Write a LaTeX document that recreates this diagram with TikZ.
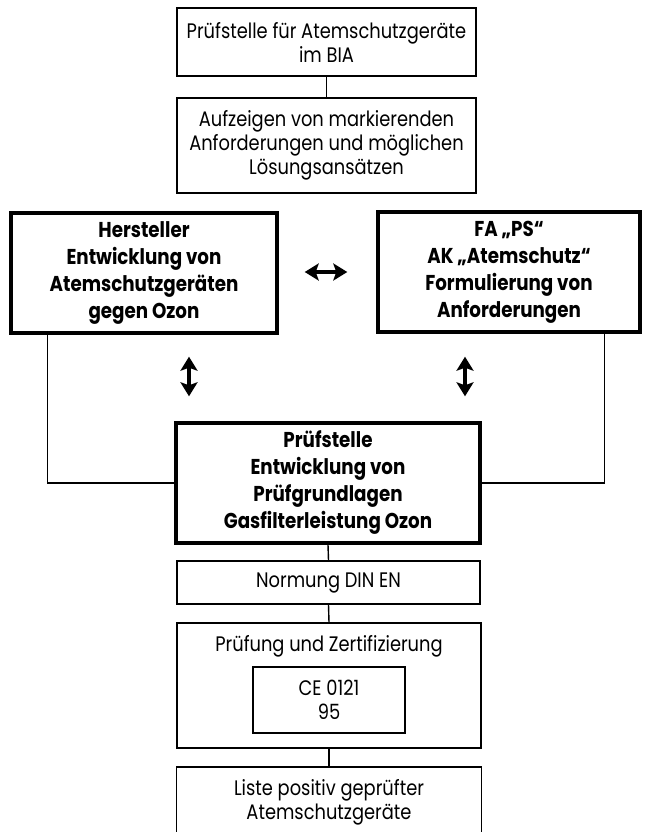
\documentclass[tikz,border=0pt]{standalone}
\usepackage{fontspec}
\setmainfont{Poppins}[FakeStretch=0.85]
\usetikzlibrary{arrows.meta, positioning, calc}
\tikzset{>={Stealth[length=14pt, width=17pt, inset=3pt]}}
\tikzset{
	kasten/.style={draw, line width=1.6pt, align=center, inner sep=0pt, font=\fontsize{21}{24}\selectfont},
	dickkasten/.style={kasten, line width=3.4pt, font=\fontsize{21.5}{27}\selectfont\bfseries},
	linie/.style={line width=1.4pt},
	pfeil/.style={line width=3.6pt, <->}
}

\begin{document}
\begin{tikzpicture}[x=1pt, y=-1pt]

	\useasboundingbox (0,0) rectangle (645,832);
	\clip (0,0) rectangle (645,832);

	% obere Kaesten
	\node [kasten, minimum width=299, minimum height=68] (bia) at (326.5,42) {Prüfstelle für Atemschutzgeräte\\im BIA};
	\node [kasten, minimum width=299, minimum height=95] (aufzeigen) at (326.5,145.5) {Aufzeigen von markierenden\\Anforderungen und möglichen\\Lösungsansätzen};

	% Hersteller / Fachausschuss
	\node [dickkasten, minimum width=266, minimum height=120] (hersteller) at (144,273) {Hersteller\\Entwicklung von\\Atemschutzgeräten\\gegen Ozon};
	\node [dickkasten, minimum width=262, minimum height=120] (fachaus) at (509,272) {FA „PS“\\AK „Atemschutz“\\Formulierung von\\Anforderungen};

	\node [dickkasten, minimum width=304, minimum height=120] (pruefstelle) at (328,483) {Prüfstelle\\Entwicklung von\\Prüfgrundlagen\\Gasfilterleistung Ozon};

	% untere Kaesten
	\node [kasten, minimum width=303, minimum height=43] (normung) at (328.5,582.5) {Normung DIN EN};
	\node [kasten, minimum width=304, minimum height=125] (pruefung) at (329,685.5) {};
	\node [font=\fontsize{21}{24}\selectfont] (pruefungtitel) at (329,646) {Prüfung und Zertifizierung};
	\node [kasten, line width=2.4pt, minimum width=152, minimum height=66] (ce) at (329,700) {CE 0121\\95};
	\node [kasten, minimum width=305, minimum height=70] (liste) at (329,802) {Liste positiv geprüfter\\Atemschutzgeräte};

	% Verbindungen
	\draw [linie] (bia) -- (aufzeigen);
	\draw [linie] ($(aufzeigen.south west)+(36,0)$) -- ($(aufzeigen.south west)+(36,0)$ |- hersteller.north);
	\draw [linie] ($(aufzeigen.south east)+(-37,0)$) -- ($(aufzeigen.south east)+(-37,0)$ |- fachaus.north);
	\draw [linie] ($(hersteller.south west)+(38,0)$) |- (pruefstelle.west);
	\draw [linie] ($(fachaus.south east)+(-37,0)$) |- (pruefstelle.east);
	\draw [linie] (pruefstelle.south) -- (normung.north);
	\draw [linie] (normung.south) -- (pruefung.north);
	\draw [linie] (pruefung.south) -- (liste.north);

	% Pfeile
	\draw [pfeil] ($(hersteller.east)+(26,-1)$) -- ($(fachaus.west)+(-29,0)$);
	\draw [pfeil] ($(hersteller.south)+(45,22)$) -- ($(pruefstelle.north)+(-139,-25)$);
	\draw [pfeil] ($(fachaus.south)+(-44,23)$) -- ($(pruefstelle.north)+(137,-25)$);

\end{tikzpicture}
\end{document}
